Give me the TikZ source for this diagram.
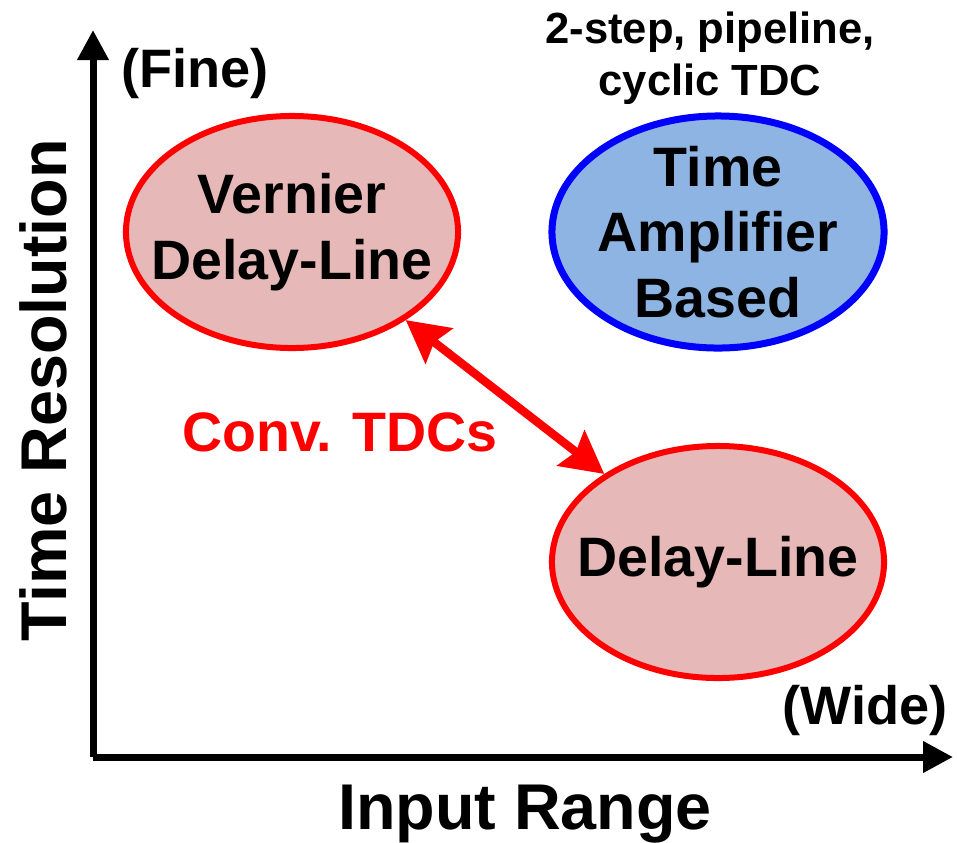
\documentclass[tikz,border=0pt]{standalone}
\usepackage{fontspec}
\setmainfont{Liberation Sans}
\usetikzlibrary{shapes.geometric,arrows.meta}

\definecolor{tdcpink}{RGB}{230,184,183}
\definecolor{tdcblue}{RGB}{141,180,226}

\begin{document}
\begin{tikzpicture}[x=0.025cm, y=-0.025cm,
        axis/.style={line width=0.175cm, -{Triangle[length=0.75cm, width=0.75cm]}},
        tdc/.style={ellipse, line width=0.15cm, minimum width=8.3cm, minimum height=5.8cm},
        tdctext/.style={align=center, font=\fontsize{39.5}{46.5}\selectfont\bfseries},
        axislabel/.style={font=\fontsize{46}{54}\selectfont\bfseries},
        endlabel/.style={font=\fontsize{38.5}{44}\selectfont\bfseries}]
            \useasboundingbox (0,0) rectangle (957,842);

            % Axes
            \coordinate (origin) at (93,757);
            \coordinate (ytip) at (93,30);
            \coordinate (xtip) at (953,757);
            \draw[axis] (origin) -- (ytip);
            \draw[axis] (origin) -- (xtip);
            \node[axislabel, rotate=90] (yname) at (43,390) {Time Resolution};
            \node[axislabel, anchor=base] (xname) at (525,829) {Input Range};
            \node[endlabel] (fine) at (195,73) {(Fine)};
            \node[endlabel] (wide) at (865,710) {(Wide)};

            % TDC types
            \node[tdc, draw=red, fill=tdcpink] (vernier) at (292,232) {};
            \node[tdctext] (verniertext) at (vernier) {Vernier\\Delay-Line};
            \node[tdc, draw=blue, fill=tdcblue, line width=0.175cm] (ta) at (718,232) {};
            \node[tdctext] (tatext) at (ta) {Time\\Amplifier\\Based};
            \node[tdc, draw=red, fill=tdcpink] (delay) at (718,562) {};
            \node[tdctext] (delaytext) at (delay) {Delay-Line};

            % Notes
            \node[align=center, font=\fontsize{31}{37}\selectfont\bfseries] (tanote) at (710,58) {2-step, pipeline,\\cyclic TDC};
            \node[text=red, font=\fontsize{39.5}{46}\selectfont\bfseries] (conv) at (340,432) {Conv. TDCs};
            \draw[red, line width=0.21cm, {Stealth[length=1.05cm, width=1.1cm, inset=0.15cm]}-{Stealth[length=1.05cm, width=1.1cm, inset=0.15cm]}] (vernier) -- (delay);

\end{tikzpicture}
\end{document}
